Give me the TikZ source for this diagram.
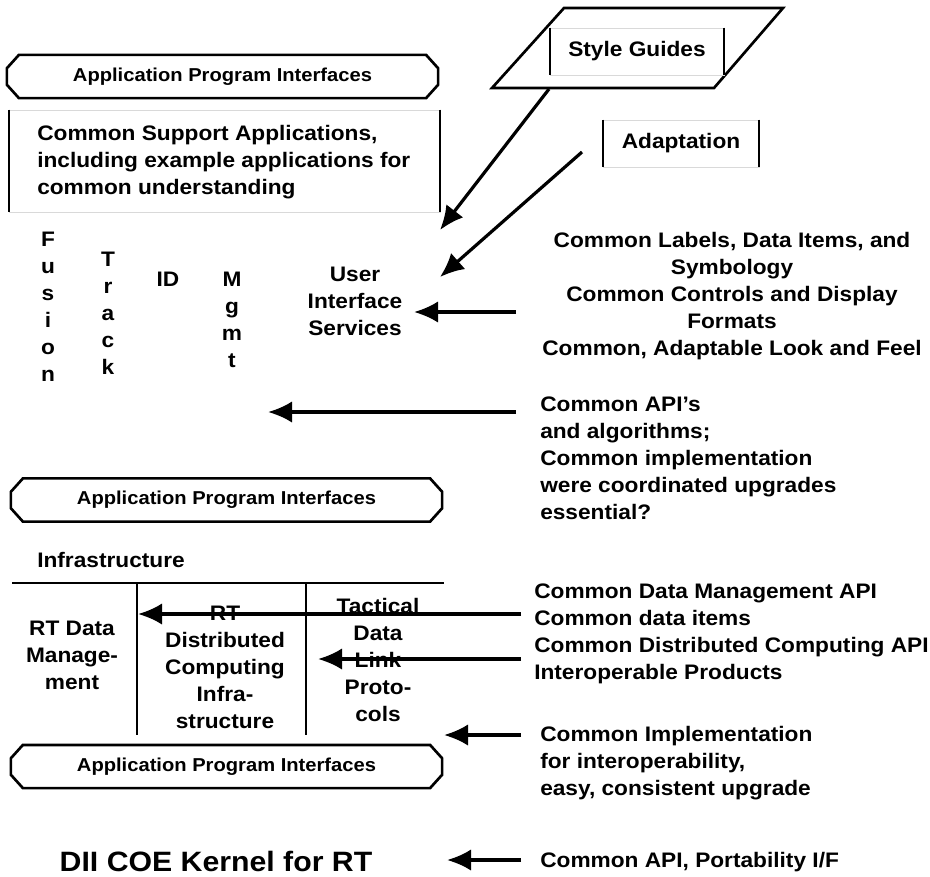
\documentclass[tikz,border=0pt]{standalone}
\usepackage{fontspec}
\setmainfont[FakeStretch=1.08]{Liberation Sans}
\usepackage{tikz}
\usetikzlibrary{calc, arrows.meta}
\tikzset{>={Latex[length=18pt, width=16pt]}}
\newcommand{\bodyfont}{\fontsize{15.75}{20.25}\selectfont\bfseries}
\newcommand{\apifont}{\fontsize{14}{16}\selectfont\bfseries}
\newcommand{\kernelfont}{\fontsize{21}{24}\selectfont\bfseries}
\tikzset{
  txt/.style = {inner sep = 0pt, font = \bodyfont, align = center},
  txtl/.style = {inner sep = 0pt, font = \bodyfont, align = left, anchor = west},
  api/.style = {inner sep = 0pt, font = \apifont, minimum width = 323pt, minimum height = 32pt},
  apiline/.style = {line width = 2pt},
  frame/.style = {line width = 2pt},
  side/.style = {line width = 1.6pt},
  faint/.style = {draw = gray!30, line width = 0.5pt, inner sep = 0pt},
  arr/.style = {->, line width = 2.4pt},
}
\newcommand{\apioutline}[1]{%
  \draw[apiline] ([xshift=9pt]#1.north west) -- ([xshift=-9pt]#1.north east)
    -- ([yshift=-10pt]#1.north east) -- ([yshift=10pt]#1.south east)
    -- ([xshift=-9pt]#1.south east) -- ([xshift=9pt]#1.south west)
    -- ([yshift=10pt]#1.south west) -- ([yshift=-10pt]#1.north west) -- cycle;}

\begin{document}
\begin{tikzpicture}[x = 0.75pt, y = -0.75pt]
\useasboundingbox (0,0) rectangle (930,876);

\node[api] (apitop) at (222.5,76.5) {Application Program Interfaces};
\apioutline{apitop}
\node[faint, minimum width = 323.25pt, minimum height = 76.5pt] (csabox) at (224.5,161) {};
\draw[side] (csabox.north west) -- (csabox.south west);
\draw[side] (csabox.north east) -- (csabox.south east);
\node[txtl] (csa) at (37,162) {Common Support Applications,\\including example applications for\\common understanding};

\node[txt] (fusion) at (48,307) {F\\u\\s\\i\\o\\n};
\node[txt] (track) at (108,313) {T\\r\\a\\c\\k};
\node[txt] (id) at (168,279) {ID};
\node[txt] (mgmt) at (232,319.5) {M\\g\\m\\t};
\node[txt] (uis) at (355,301) {User\\Interface\\Services};

\draw[frame] (564,8) -- (783,8) -- (714,88) -- (492,88) -- cycle;
\node[faint, font = \bodyfont, minimum width = 130.5pt, minimum height = 35.25pt] (sg) at (637,51.5) {Style Guides};
\draw[side] (sg.north west) -- (sg.south west);
\draw[side] (sg.north east) -- (sg.south east);
\node[faint, font = \bodyfont, minimum width = 117pt, minimum height = 35.25pt] (adapt) at (681,143.5) {Adaptation};
\draw[side] (adapt.north west) -- (adapt.south west);
\draw[side] (adapt.north east) -- (adapt.south east);

\node[txt] (looks) at (732,296) {Common Labels, Data Items, and\\Symbology\\Common Controls and Display\\Formats\\Common, Adaptable Look and Feel};
\node[txtl] (apis) at (540,458) {Common API’s\\and algorithms;\\Common implementation\\were coordinated upgrades\\essential?};

\coordinate (sgfoot) at (549,89);
\coordinate (adfoot) at (582,152);
\coordinate (uisa) at (440,230);
\coordinate (uisb) at (440,277);
\coordinate (lookin) at (516,312);
\coordinate (uisc) at (414,312);
\coordinate (apisin) at (516,412);
\coordinate (algtip) at (268,412);
\draw[arr] (sgfoot) -- (uisa);
\draw[arr] (adfoot) -- (uisb);
\draw[arr] (lookin) -- (uisc);
\draw[arr] (apisin) -- (algtip);

\node[api] (apimid) at (226.5,500) {Application Program Interfaces};
\apioutline{apimid}
\node[txtl] (infra) at (37,560) {Infrastructure};
\draw[side] (12,583) -- (444,583);
\draw[side] (137,583) -- (137,735);
\draw[side] (306,583) -- (306,735);
\node[txt] (rtdm) at (72,655.5) {RT Data\\Manage-\\ment};
\node[txt] (rtdci) at (225,667) {RT\\Distributed\\Computing\\Infra-\\structure};
\node[txt] (tdlp) at (378,659.5) {Tactical\\Data\\Link\\Proto-\\cols};
\node[txtl] (dmapi) at (534,633.5) {Common Data Management API\\Common data items\\Common Distributed Computing API\\Interoperable Products};

\coordinate (dmin) at (521,614);
\coordinate (rtdmtip) at (138,614);
\coordinate (dcin) at (521,659);
\coordinate (rtdctip) at (318,659);
\draw[arr] (dmin) -- (rtdmtip);
\draw[arr] (dcin) -- (rtdctip);

\node[api] (apibot) at (226.5,766.5) {Application Program Interfaces};
\apioutline{apibot}
\node[txtl] (impl) at (540,763) {Common Implementation\\for interoperability,\\easy, consistent upgrade};
\coordinate (implin) at (521,735);
\coordinate (infratip) at (444,735);
\draw[arr] (implin) -- (infratip);

\node[inner sep = 0pt, font = \kernelfont] (kernel) at (216,861) {DII COE Kernel for RT};
\node[txtl] (port) at (540,862) {Common API, Portability I/F};
\coordinate (portin) at (521,860);
\coordinate (kerneltip) at (447,860);
\draw[arr] (portin) -- (kerneltip);
\end{tikzpicture}
\end{document}
